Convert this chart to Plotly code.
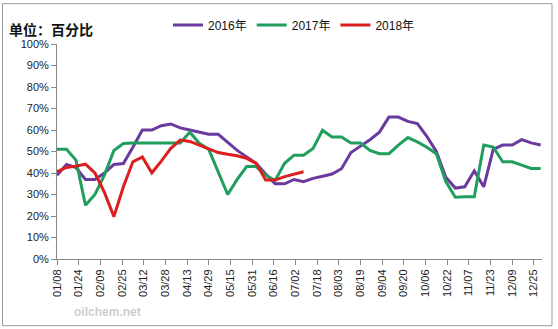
import pandas as pd
import plotly.graph_objects as go

# weekly category dates (plotted on a common 2016 date axis)
week_dates = list(pd.date_range("2016-01-08", periods=52, freq="7D").strftime("%Y-%m-%d"))

s2016 = [39, 44, 42.5, 37, 37, 40, 44, 44.4, 52, 60, 60, 62, 62.8, 61, 60, 59, 58, 58,
         54.4, 50.5, 47.5, 44.5, 39.5, 35, 35, 37, 36, 37.5, 38.5, 39.5, 42, 49.5, 52.5,
         55.5, 59, 66, 66, 64, 63, 57, 50, 38, 33, 33.6, 41, 33.6, 51, 53, 53, 55.5, 54, 53]
s2017 = [51, 51, 46, 25, 30, 39, 50.5, 53.7, 54, 54, 54, 54, 54, 54, 59, 53.8, 51, 40.6,
         30, 37, 43, 43, 39, 36.5, 44.5, 48.3, 48.3, 51.4, 59.9, 56.8, 56.8, 54, 54, 50.5,
         49, 49, 53, 56.5, 54.5, 52, 49, 36, 28.7, 29, 29, 53, 52.1, 45.2, 45.2, 43.7, 42.1, 42.1]
s2018 = [40.6, 42.6, 43.2, 44.1, 40, 31, 19.7, 33.6, 45.2, 47.5, 40.1, 45.5, 51.5, 55.3,
         54.7, 53, 51, 49.5, 48.7, 48, 46.8, 44.5, 36.7, 36.7, 38.3, 39.5, 40.6]

series_names = ["2016年", "2017年", "2018年"]
series_colors = ["#6B3A9E", "#1F9E5E", "#DC1E1E"]
y_ticks = list(range(0, 101, 10))

fig = go.Figure()
for name, vals, col in zip(series_names, [s2016, s2017, s2018], series_colors):
    fig.add_trace(go.Scatter(
        x=week_dates[:len(vals)], y=vals, name=name, mode="lines",
        line=dict(color=col, width=3),
    ))

L, R, T, B = 57, 16, 43, 70
W, H = 558, 329
pw, ph = W - L - R, H - T - B

def px_x(x):
    return (x - L) / pw

def px_y(y):
    return (H - B - y) / ph

fig.update_layout(
    width=W, height=H,
    margin=dict(l=L, r=R, t=T, b=B, pad=0),
    paper_bgcolor="white", plot_bgcolor="white",
    font=dict(family="Liberation Sans, Noto Sans CJK SC", size=11, color="#222"),
    showlegend=True,
    legend=dict(orientation="h", x=px_x(168), y=px_y(25), xanchor="left", yanchor="middle",
                font=dict(size=12, family="Liberation Sans, Noto Sans CJK SC", color="#111"),
                bgcolor="rgba(0,0,0,0)", itemwidth=30, tracegroupgap=0),
    xaxis=dict(
        type="date", range=["2016-01-08", "2016-12-31"],
        tick0="2016-01-08", dtick=16 * 86400000, tickformat="%m/%d",
        tickangle=-90, ticks="outside", ticklen=5, tickcolor="#888",
        showline=True, linecolor="#888", linewidth=1, showgrid=False, zeroline=False,
        tickfont=dict(size=11, color="#222"),
    ),
    yaxis=dict(
        range=[0, 100], tickvals=y_ticks, ticktext=[f"{v}%" for v in y_ticks],
        ticks="outside", ticklen=5, tickcolor="#888",
        showline=True, linecolor="#888", linewidth=1, showgrid=False, zeroline=False,
        tickfont=dict(size=11, color="#222"),
    ),
    shapes=[dict(type="rect", xref="paper", yref="paper",
                 x0=px_x(2.5), x1=px_x(552), y0=px_y(326), y1=px_y(2.5),
                 line=dict(color="#999", width=1), fillcolor="rgba(0,0,0,0)", layer="below")],
    annotations=[
        dict(text="<b>单位：百分比</b>", xref="paper", yref="paper", x=px_x(7), y=px_y(28),
             xanchor="left", yanchor="middle", showarrow=False,
             font=dict(size=14, family="Noto Sans CJK SC", color="#111")),
        dict(text="<b>oilchem.net</b>", xref="paper", yref="paper", x=px_x(72), y=px_y(312),
             xanchor="left", yanchor="middle", showarrow=False,
             font=dict(size=12, family="Liberation Sans", color="rgba(170,170,170,0.6)")),
    ],
)

fig.write_html("out.html")
